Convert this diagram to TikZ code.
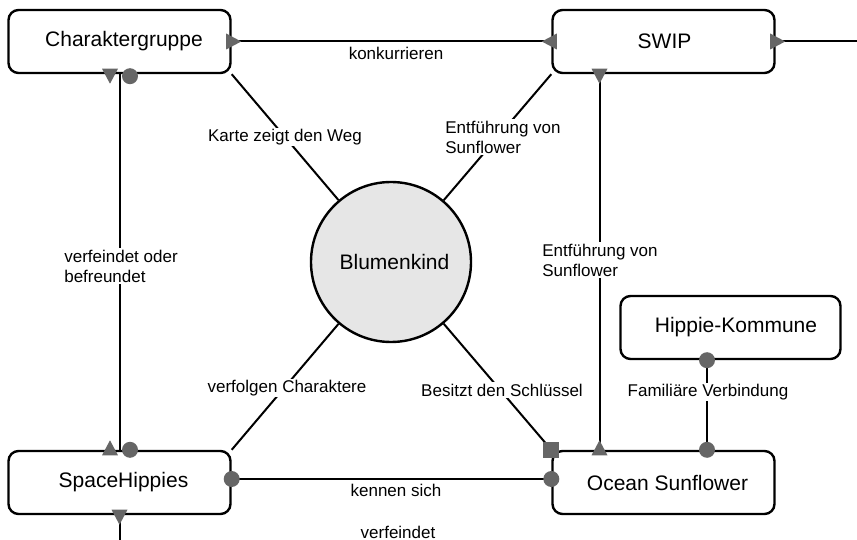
\documentclass[tikz,border=0pt]{standalone}
\usepackage{fontspec}
\setmainfont{Liberation Sans}
\usetikzlibrary{backgrounds}
\definecolor{mkc}{HTML}{666666}
\definecolor{bkfill}{HTML}{E6E6E6}
\newcommand\mktri[2]{\fill[mkc, shift={(#2)}, rotate=#1] (-5.5,-8) -- (-5.5,8) -- (9.5,0) -- cycle;}
\newcommand\mkdot[1]{\fill[mkc] (#1) circle[radius=8pt];}
\begin{document}
\begin{tikzpicture}[x=1pt,y=-1pt,
  box/.style={draw, line width=2.4pt, rounded corners=10pt, fill=white, minimum width=222pt, minimum height=63pt, font=\fontsize{21}{25}\selectfont, inner sep=0pt},
  conn/.style={line width=2pt},
  lbl/.style={fill=white, inner sep=1.5pt, font=\fontsize{17}{20}\selectfont, align=left}]
\useasboundingbox (0,0) rectangle (857,540);
% nodes
\node[box] (cg) at (119.5,41.5) {\hspace{9pt}Charaktergruppe};
\node[box] (swip) at (663.5,41.5) {\hspace{2pt}SWIP};
\node[box] (sh) at (119.5,482.5) {\hspace{8pt}SpaceHippies};
\node[box] (os) at (663.5,482.5) {\hspace{8pt}Ocean Sunflower};
\node[box, minimum width=220pt] (hk) at (730.5,327.5) {\hspace{11pt}Hippie-Kommune};
\node[draw, circle, line width=2.4pt, fill=bkfill, minimum size=160pt, inner sep=0pt, font=\fontsize{21}{25}\selectfont] (bk) at (391,262) {\hspace{7pt}Blumenkind};
\coordinate (rt) at (857,41.5);
\coordinate (bot) at (119.5,540);
\coordinate (hkb) at ([xshift=-23.5pt]hk.south);
\coordinate (ost) at (hkb |- os.north);
\coordinate (swb) at ([xshift=-64pt]swip.south);
\coordinate (osl) at (swb |- os.north);
\coordinate (she) at ([yshift=3.5pt]sh.east);
\coordinate (osw) at (she -| os.west);
% connectors
\begin{pgfonlayer}{background}
\draw[conn] (cg.east) -- (swip.west);
\draw[conn] (swip.east) -- (rt);
\draw[conn] (cg.south) -- (sh.north);
\draw[conn] (sh.south) -- (bot);
\draw[conn] (she) -- (osw);
\draw[conn] (swb) -- (osl);
\draw[conn] (hkb) -- (ost);
\draw[conn] (cg.south east) -- (bk);
\draw[conn] (swip.south west) -- (bk);
\draw[conn] (sh.north east) -- (bk);
\draw[conn] (os.north west) -- (bk);
\end{pgfonlayer}
% labels
\node[lbl] (l1) at (396,53) {konkurrieren};
\node[lbl] (l2) at (285,137) {Karte zeigt den Weg};
\node[lbl] (l3) at (503,137) {Entführung von\\Sunflower};
\node[lbl] (l4) at (121,266) {verfeindet oder\\befreundet};
\node[lbl] (l5) at (600,260) {Entführung von\\Sunflower};
\node[lbl] (l6) at (287,388) {verfolgen Charaktere};
\node[lbl] (l7) at (502,390) {Besitzt den Schlüssel};
\node[lbl] (l8) at (708,392) {Familiäre Verbindung};
\node[lbl] (l9) at (396,490) {kennen sich};
\node[lbl] (l10) at (398,532) {verfeindet};
% markers
\mktri{0}{cg.east}
\mktri{180}{swip.west}
\mktri{0}{swip.east}
\mktri{-90}{[xshift=-9.5pt]cg.south}
\mkdot{[xshift=10.5pt,yshift=-2pt]cg.south}
\mktri{90}{[xshift=-9.5pt]sh.north}
\mkdot{[xshift=10.5pt]sh.north}
\mktri{-90}{sh.south}
\mktri{-90}{swb}
\mktri{90}{osl}
\fill[mkc] (os.north west) ++(-8,-8) rectangle ++(16,16);
\mkdot{ost}
\mkdot{hkb}
\mkdot{she}
\mkdot{osw}
\end{tikzpicture}
\end{document}
